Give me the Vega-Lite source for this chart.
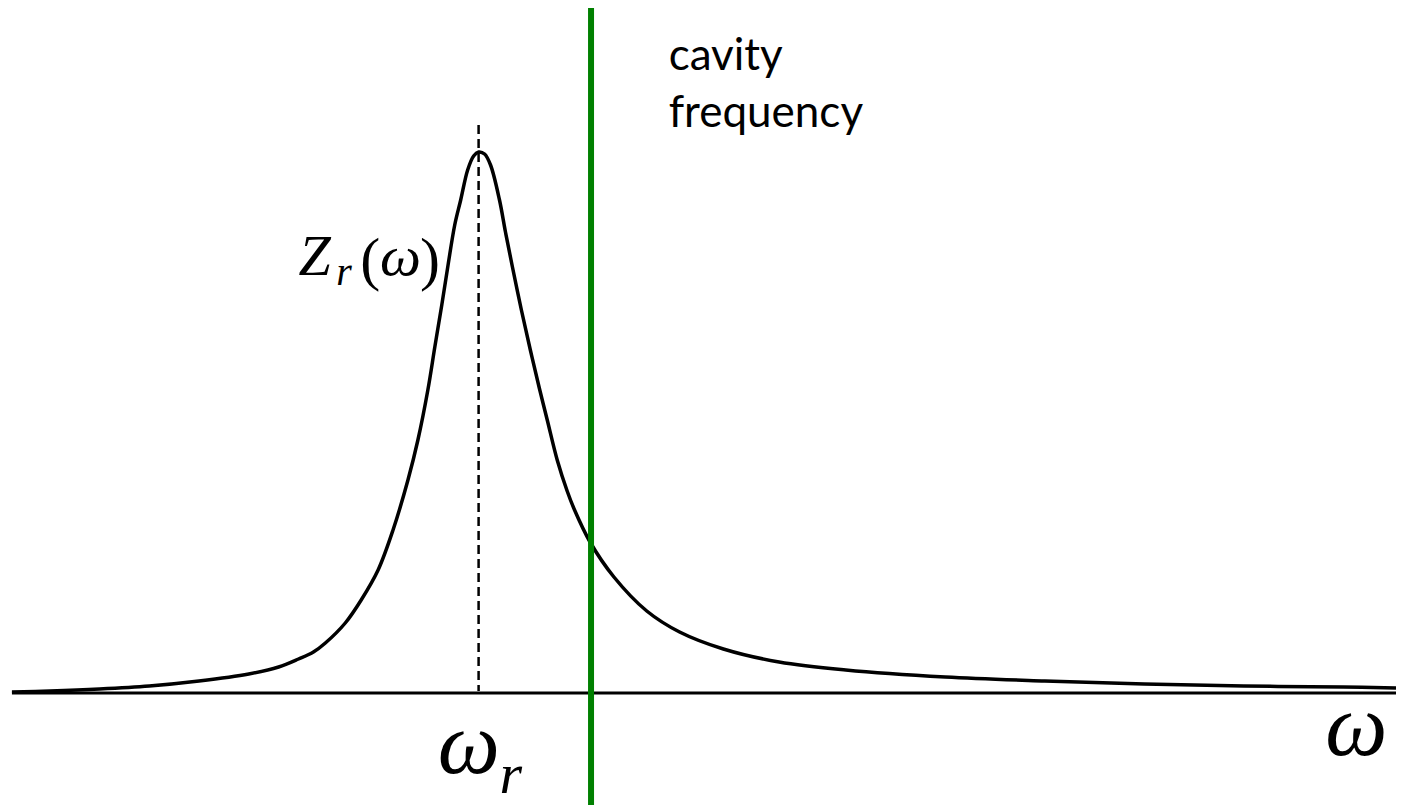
{
  "$schema": "https://vega.github.io/schema/vega-lite/v6.json",
  "width": 1403,
  "height": 809,
  "padding": 0,
  "autosize": {"type": "fit", "contains": "padding"},
  "background": "white",
  "config": {"view": {"stroke": null}},
  "datasets": {
    "curve": [
      {"w": 12, "z": 1}, {"w": 50, "z": 2}, {"w": 100, "z": 4}, {"w": 150, "z": 7},
      {"w": 200, "z": 12}, {"w": 250, "z": 19}, {"w": 280, "z": 26}, {"w": 300, "z": 34},
      {"w": 315, "z": 41}, {"w": 327, "z": 50}, {"w": 347, "z": 70}, {"w": 363, "z": 93}, {"w": 380, "z": 123},
      {"w": 395, "z": 163}, {"w": 410, "z": 213}, {"w": 420, "z": 253}, {"w": 430, "z": 303},
      {"w": 437, "z": 346}, {"w": 444, "z": 388}, {"w": 450, "z": 426}, {"w": 457, "z": 468},
      {"w": 463, "z": 493}, {"w": 470, "z": 523}, {"w": 476, "z": 537}, {"w": 481, "z": 541},
      {"w": 487, "z": 539}, {"w": 493, "z": 528}, {"w": 502, "z": 493}, {"w": 508, "z": 461},
      {"w": 515, "z": 426}, {"w": 524, "z": 383}, {"w": 533, "z": 343}, {"w": 542, "z": 305},
      {"w": 550, "z": 273}, {"w": 560, "z": 233}, {"w": 570, "z": 202}, {"w": 577, "z": 184},
      {"w": 593, "z": 151}, {"w": 617, "z": 116}, {"w": 650, "z": 82}, {"w": 683, "z": 61},
      {"w": 727, "z": 44}, {"w": 783, "z": 31}, {"w": 850, "z": 23}, {"w": 950, "z": 16},
      {"w": 1050, "z": 12}, {"w": 1150, "z": 9}, {"w": 1250, "z": 7}, {"w": 1350, "z": 6},
      {"w": 1403, "z": 5}
    ],
    "baseline": [{"w": 12, "w2": 1403, "z": 0}],
    "cavity": [{"w": 594, "z": 685, "z2": -112}],
    "peak": [{"w": 481, "z": 568, "z2": 2}],
    "caption": [{"label": "cavity", "w": 672, "z": 623}, {"label": "frequency", "w": 672, "z": 566}],
    "mathBig": [{"label": "ω", "w": 440, "z": -80}, {"label": "ω", "w": 1332, "z": -62}],
    "mathSub": [{"label": "r", "w": 502, "z": -100}],
    "mathZ": [{"label": "Z", "w": 300, "z": 418}, {"label": "ω", "w": 382, "z": 418}],
    "mathZsub": [{"label": "r", "w": 338, "z": 408}],
    "parens": [{"label": "(", "w": 362, "z": 414}, {"label": ")", "w": 422, "z": 414}]
  },
  "encoding": {
    "x": {"field": "w", "type": "quantitative", "scale": {"domain": [0, 1403], "nice": false, "zero": false}, "axis": null},
    "y": {"field": "z", "type": "quantitative", "scale": {"domain": [-116, 693], "nice": false, "zero": false}, "axis": null}
  },
  "layer": [
    {
      "data": {"name": "baseline"},
      "mark": {"type": "rule", "color": "black", "strokeWidth": 3},
      "encoding": {"x2": {"field": "w2"}}
    },
    {
      "data": {"name": "peak"},
      "mark": {"type": "rule", "color": "black", "strokeWidth": 2.5, "strokeDash": [9, 5]},
      "encoding": {"y2": {"field": "z2"}}
    },
    {
      "data": {"name": "curve"},
      "mark": {"type": "line", "color": "black", "strokeWidth": 3.5, "interpolate": "catmull-rom"},
      "encoding": {"order": {"field": "w"}}
    },
    {
      "data": {"name": "cavity"},
      "mark": {"type": "rule", "color": "#008000", "strokeWidth": 6},
      "encoding": {"y2": {"field": "z2"}}
    },
    {
      "data": {"name": "caption"},
      "mark": {"type": "text", "align": "left", "baseline": "alphabetic", "font": "Lato", "fontSize": 44, "color": "black"},
      "encoding": {"text": {"field": "label"}}
    },
    {
      "data": {"name": "mathBig"},
      "mark": {"type": "text", "align": "left", "baseline": "alphabetic", "font": "Liberation Serif", "fontStyle": "italic", "fontSize": 88, "color": "black"},
      "encoding": {"text": {"field": "label"}}
    },
    {
      "data": {"name": "mathSub"},
      "mark": {"type": "text", "align": "left", "baseline": "alphabetic", "font": "Liberation Serif", "fontStyle": "italic", "fontSize": 58, "color": "black"},
      "encoding": {"text": {"field": "label"}}
    },
    {
      "data": {"name": "mathZ"},
      "mark": {"type": "text", "align": "left", "baseline": "alphabetic", "font": "Liberation Serif", "fontStyle": "italic", "fontSize": 58, "color": "black"},
      "encoding": {"text": {"field": "label"}}
    },
    {
      "data": {"name": "mathZsub"},
      "mark": {"type": "text", "align": "left", "baseline": "alphabetic", "font": "Liberation Serif", "fontStyle": "italic", "fontSize": 40, "color": "black"},
      "encoding": {"text": {"field": "label"}}
    },
    {
      "data": {"name": "parens"},
      "mark": {"type": "text", "align": "left", "baseline": "alphabetic", "font": "Liberation Serif", "fontSize": 60, "color": "black"},
      "encoding": {"text": {"field": "label"}}
    }
  ]
}
